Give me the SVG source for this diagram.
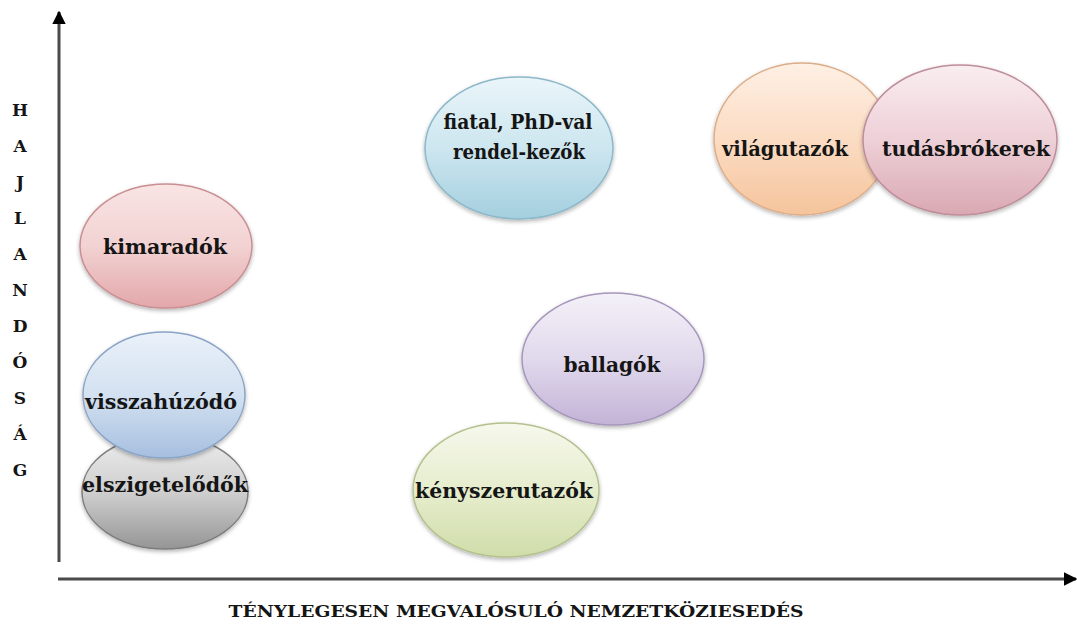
<svg xmlns="http://www.w3.org/2000/svg" width="1077" height="624" viewBox="0 0 1077 624">
<style>
.lbl{font-family:"DejaVu Serif","Liberation Serif",serif;font-weight:bold;font-size:20px;fill:#151515;text-anchor:middle}
.ax{font-family:"DejaVu Serif","Liberation Serif",serif;font-weight:bold;font-size:17px;fill:#151515;text-anchor:middle}
.axis{stroke:#4a4a4a;stroke-width:3;fill:none}
.bub{stroke-width:1.5;filter:url(#sh)}
</style>
<defs>
<filter id="sh" x="-10%" y="-10%" width="120%" height="125%">
<feGaussianBlur in="SourceAlpha" stdDeviation="2"/>
<feOffset dy="2" result="b"/>
<feComponentTransfer><feFuncA type="linear" slope="0.3"/></feComponentTransfer>
<feMerge><feMergeNode/><feMergeNode in="SourceGraphic"/></feMerge>
</filter>
<marker id="arr" viewBox="0 0 10 10" refX="9" refY="5" markerWidth="4.5" markerHeight="4.5" orient="auto" markerUnits="strokeWidth">
<path d="M0,0 L10,5 L0,10 z" fill="#000"/>
</marker>
<linearGradient id="gPink" x1="0" y1="0" x2="0" y2="1"><stop offset="0" stop-color="#f9e4e4"/><stop offset="0.5" stop-color="#f2d2d2"/><stop offset="1" stop-color="#e3a7aa"/></linearGradient>
<linearGradient id="gBlue" x1="0" y1="0" x2="0" y2="1"><stop offset="0" stop-color="#eaf1f9"/><stop offset="0.5" stop-color="#d3e1f1"/><stop offset="1" stop-color="#a6bfdf"/></linearGradient>
<linearGradient id="gGray" x1="0" y1="0" x2="0" y2="1"><stop offset="0" stop-color="#ededed"/><stop offset="0.5" stop-color="#cfcfcf"/><stop offset="1" stop-color="#959595"/></linearGradient>
<linearGradient id="gCyan" x1="0" y1="0" x2="0" y2="1"><stop offset="0" stop-color="#eaf5f9"/><stop offset="0.5" stop-color="#cde6ef"/><stop offset="1" stop-color="#a4cfdf"/></linearGradient>
<linearGradient id="gPeach" x1="0" y1="0" x2="0" y2="1"><stop offset="0" stop-color="#fef0e5"/><stop offset="0.5" stop-color="#fbdcc3"/><stop offset="1" stop-color="#f5c49c"/></linearGradient>
<linearGradient id="gRose" x1="0" y1="0" x2="0" y2="1"><stop offset="0" stop-color="#f9edf0"/><stop offset="0.5" stop-color="#eed0d7"/><stop offset="1" stop-color="#d9a8b3"/></linearGradient>
<linearGradient id="gLilac" x1="0" y1="0" x2="0" y2="1"><stop offset="0" stop-color="#f4f1f8"/><stop offset="0.5" stop-color="#e1d9ec"/><stop offset="1" stop-color="#c3b3d7"/></linearGradient>
<linearGradient id="gGreen" x1="0" y1="0" x2="0" y2="1"><stop offset="0" stop-color="#f6f8ec"/><stop offset="0.5" stop-color="#e6edcd"/><stop offset="1" stop-color="#d0dda9"/></linearGradient>
</defs>
<rect width="1077" height="624" fill="#fff"/>

<g id="connectors">
<line class="axis" x1="59" y1="562" x2="59" y2="12" marker-end="url(#arr)"/>
<line class="axis" x1="58" y1="579" x2="1076" y2="579" marker-end="url(#arr)"/>
</g>

<g id="y-axis-label">
<text class="ax" x="20" y="116">H</text>
<text class="ax" x="20" y="152">A</text>
<text class="ax" x="20" y="188">J</text>
<text class="ax" x="20" y="224">L</text>
<text class="ax" x="20" y="260">A</text>
<text class="ax" x="20" y="296">N</text>
<text class="ax" x="20" y="332">D</text>
<text class="ax" x="20" y="368">Ó</text>
<text class="ax" x="20" y="404">S</text>
<text class="ax" x="20" y="440">Á</text>
<text class="ax" x="20" y="476">G</text>
</g>

<g id="x-axis-label">
<text class="ax" x="516" y="617" textLength="575" lengthAdjust="spacingAndGlyphs">TÉNYLEGESEN MEGVALÓSULÓ NEMZETKÖZIESEDÉS</text>
</g>

<g id="kimaradok">
<ellipse class="bub" cx="166" cy="246" rx="86" ry="62" fill="url(#gPink)" stroke="#c98f93"/>
<text class="lbl" x="165" y="254" textLength="124" lengthAdjust="spacingAndGlyphs">kimaradók</text>
</g>

<g id="elszigetelodok">
<ellipse class="bub" cx="165" cy="492" rx="83" ry="57" fill="url(#gGray)" stroke="#7d7d7d"/>
<text class="lbl" x="165" y="492" textLength="166" lengthAdjust="spacingAndGlyphs">elszigetelődők</text>
</g>

<g id="visszahuzodo">
<ellipse class="bub" cx="164" cy="395" rx="81" ry="63" fill="url(#gBlue)" stroke="#8ba4c6"/>
<text class="lbl" x="161" y="409" textLength="152" lengthAdjust="spacingAndGlyphs">visszahúzódó</text>
</g>

<g id="fiatal-phd">
<ellipse class="bub" cx="519" cy="148" rx="94" ry="71" fill="url(#gCyan)" stroke="#8cb8c9"/>
<text class="lbl" x="518" y="129" textLength="149" lengthAdjust="spacingAndGlyphs">fiatal, PhD-val</text>
<text class="lbl" x="519" y="159" textLength="132" lengthAdjust="spacingAndGlyphs">rendel-kezők</text>
</g>

<g id="vilagutazok">
<ellipse class="bub" cx="802" cy="139" rx="88" ry="76" fill="url(#gPeach)" stroke="#dcad88"/>
<text class="lbl" x="785" y="156" textLength="126" lengthAdjust="spacingAndGlyphs">világutazók</text>
</g>

<g id="tudasbrokerek">
<ellipse class="bub" cx="960" cy="140" rx="97" ry="75" fill="url(#gRose)" stroke="#bf8d99"/>
<text class="lbl" x="966" y="156" textLength="168" lengthAdjust="spacingAndGlyphs">tudásbrókerek</text>
</g>

<g id="ballagok">
<ellipse class="bub" cx="613" cy="359" rx="91" ry="66" fill="url(#gLilac)" stroke="#a797bc"/>
<text class="lbl" x="612" y="372" textLength="97" lengthAdjust="spacingAndGlyphs">ballagók</text>
</g>

<g id="kenyszerutazok">
<ellipse class="bub" cx="506" cy="490" rx="93" ry="67" fill="url(#gGreen)" stroke="#b4c18f"/>
<text class="lbl" x="504" y="498" textLength="178" lengthAdjust="spacingAndGlyphs">kényszerutazók</text>
</g>
</svg>
